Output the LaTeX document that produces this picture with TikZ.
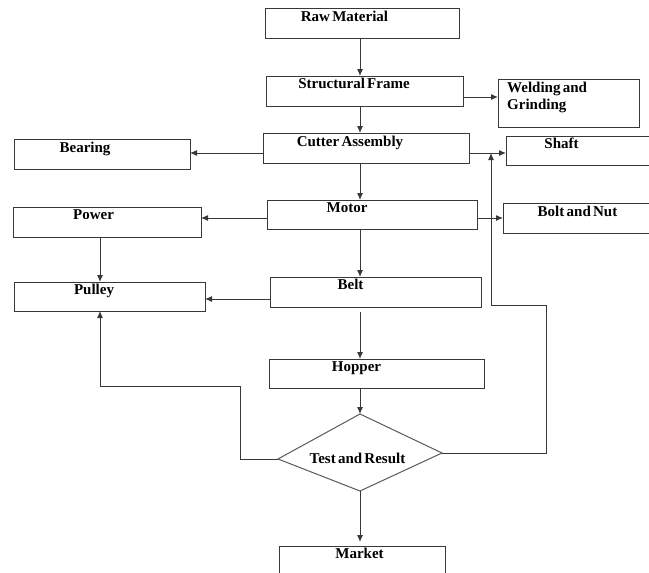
\documentclass[tikz,border=0pt]{standalone}
\usepackage{fontspec}
\setmainfont[WordSpace=0.6]{Liberation Serif}
\usetikzlibrary{arrows.meta}
\begin{document}
\begin{tikzpicture}[x=1pt,y=-1pt,
  box/.style={draw=black!78, line width=1pt, fill=white, inner sep=0pt, outer sep=0pt},
  lbl/.style={anchor=base, inner sep=0pt, font=\fontsize{15}{17}\selectfont\bfseries},
  arr/.style={draw=black!78, line width=1pt, -{Latex[length=7pt,width=6pt]}},
  ln/.style={draw=black!65, line width=1pt}]
\useasboundingbox (0,0) rectangle (649,573);
\clip (0,0) rectangle (649,573);
% boxes
\node[box, minimum width=194pt, minimum height=30pt] (raw) at (362,23) {};
\node[box, minimum width=197pt, minimum height=30pt] (frame) at (364.5,91) {};
\node[box, minimum width=141pt, minimum height=48pt] (weld) at (568.5,103) {};
\node[box, minimum width=206pt, minimum height=30pt] (cutter) at (366,148) {};
\node[box, minimum width=176pt, minimum height=30pt] (bearing) at (102,154) {};
\node[box, minimum width=154pt, minimum height=29pt] (shaft) at (583,150.5) {};
\node[box, minimum width=210pt, minimum height=29pt] (motor) at (372,214.5) {};
\node[box, minimum width=188pt, minimum height=30pt] (power) at (107,222) {};
\node[box, minimum width=157pt, minimum height=30pt] (bolt) at (581.5,218) {};
\node[box, minimum width=191pt, minimum height=29pt] (pulley) at (109.5,296.5) {};
\node[box, minimum width=211pt, minimum height=30pt] (belt) at (375.5,292) {};
\node[box, minimum width=215pt, minimum height=29pt] (hopper) at (376.5,373.5) {};
\node[box, minimum width=166pt, minimum height=44pt] (market) at (362,568) {};
% diamond
\coordinate (tt) at (360,414);
\coordinate (tr) at (442,453);
\coordinate (tb) at (360,491);
\coordinate (tl) at (278,459);
\draw[ln] (tt) -- (tr) -- (tb) -- (tl) -- cycle;
% labels
\node[lbl] (rawt) at (344.5,21.5) {Raw Material};
\node[lbl] (framet) at (354,88) {Structural Frame};
\node[lbl, anchor=base west] (weldt1) at (507,92) {Welding and};
\node[lbl, anchor=base west] (weldt2) at (507,109) {Grinding};
\node[lbl] (cuttert) at (350,146) {Cutter Assembly};
\node[lbl] (bearingt) at (85,152.5) {Bearing};
\node[lbl] (shaftt) at (561.5,148.5) {Shaft};
\node[lbl] (motort) at (347,212.5) {Motor};
\node[lbl] (powert) at (93.5,219.5) {Power};
\node[lbl] (boltt) at (577.5,216.5) {Bolt and Nut};
\node[lbl] (pulleyt) at (94,294.5) {Pulley};
\node[lbl] (beltt) at (350.5,289.5) {Belt};
\node[lbl] (hoppert) at (356.5,371.5) {Hopper};
\node[lbl] (testt) at (357.5,463.5) {Test and Result};
\node[lbl] (markett) at (359.5,558.5) {Market};
% helper coordinates
\coordinate (spine) at (360,0);
\coordinate (lft) at (100,0);
\coordinate (y97) at (0,97);
\coordinate (y153) at (0,153);
\coordinate (y218) at (0,218);
\coordinate (y299) at (0,299);
\coordinate (lpA) at (240,386);
\coordinate (rpA) at (546,305);
\coordinate (rpB) at (491,153);
% connectors
\draw[arr] (spine |- raw.south) -- (spine |- frame.north);
\draw[arr] (spine |- frame.south) -- (spine |- cutter.north);
\draw[arr] (frame.east |- y97) -- (weld.west |- y97);
\draw[arr] (cutter.west |- y153) -- (bearing.east |- y153);
\draw[arr] (cutter.east |- y153) -- (shaft.west |- y153);
\draw[arr] (spine |- cutter.south) -- (spine |- motor.north);
\draw[arr] (motor.west |- y218) -- (power.east |- y218);
\draw[arr] (motor.east |- y218) -- (bolt.west |- y218);
\draw[arr] (spine |- motor.south) -- (spine |- belt.north);
\draw[arr] (lft |- power.south) -- (lft |- pulley.north);
\draw[arr] (belt.west |- y299) -- (pulley.east |- y299);
\draw[arr] ([yshift=-5pt]spine |- belt.south) -- (spine |- hopper.north);
\draw[arr] (spine |- hopper.south) -- (tt);
\draw[arr, shorten >=4pt] (tb) -- (spine |- market.north);
\draw[arr] (tl) -- (lpA |- tl) -- (lpA) -- (lft |- lpA) -- (lft |- pulley.south);
\draw[arr] (tr) -- (rpA |- tr) -- (rpA) -- (rpB |- rpA) -- (rpB);
\end{tikzpicture}
\end{document}
